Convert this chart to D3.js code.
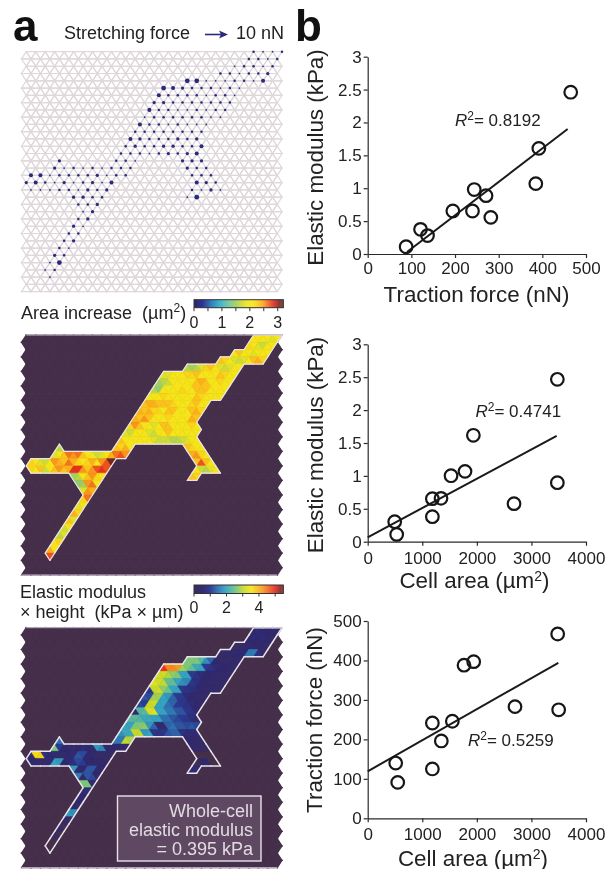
<!DOCTYPE html>
<html><head><meta charset="utf-8">
<script src="https://d3js.org/d3.v7.min.js"></script>
<style>html,body{margin:0;padding:0;background:#fff}svg{display:block;filter:blur(0.35px)}text{font-family:"Liberation Sans",Arial,sans-serif;fill:#222}</style>
</head><body><svg id="c" width="607" height="869"></svg>
<script>
// ---- scatter data ----
const tractionA = [88,121,137,195,240,244,271,282,385,392,465];
const modulusA  = [0.11,0.375,0.28,0.654,0.654,0.98,0.887,0.557,1.07,1.606,2.46];
const fitA = [[90,0.03],[458,1.9]];
const areaB = [495,531,1185,1185,1343,1527,1783,1936,2681,3475,3475];
const modulusB = [0.304,0.111,0.654,0.38,0.659,1.003,1.069,1.617,0.578,0.897,2.468];
const fitB = [[0,0.066],[3463,1.61]];
const areaC = [513,550,1185,1185,1349,1551,1765,1942,2699,3481,3499];
const tractionC = [140,91,125,241.5,196,246,388,397,283,467,275];
const fitC = [[0,119],[3493,394]];
const forceTicks = [0,100,200,300,400,500];
const modulusTicks = [0,0.5,1,1.5,2,2.5,3];
const areaTicks = [0,1000,2000,3000,4000];

// ---- mesh cell: strip number and first triangle of each run ----
const runStrip = [0,1,2,3,4,5,6,7,8,9,10,11,12,13,14,15,15,15,16,16,17,17,18,18,19,19,20,21,22,23,24,25,26,27,28,29,30];
const runFirst = [48,47,44,41,34,29,28,27,26,25,24,23,22,21,20,7,19,34,6,35,1,36,1,36,10,35,11,12,12,11,10,9,8,7,6,5,5];

// ---- area increase (um2) per triangle, per run ----
const areaIncrease = [
[2.0,2.1,2.0,1.9,1.8,2.0],
[2.2,2.0,1.8,1.7,1.9,2.0],
[2.1,2.3,2.0,1.9,1.8,1.9,2.0,2.0],
[2.3,2.2,2.0,1.8,1.7,1.8,2.0,2.3,2.4,2.2],
[1.6,1.5,1.6,1.8,2.2,2.3,2.1,1.8,1.7,1.8,1.9,2.0],
[1.8,1.8,1.9,2.0,2.0,2.2,2.2,2.3,2.1,2.0,1.9,2.1,2.3,2.2,1.9,2.0],
[1.5,1.6,1.7,2.0,2.0,2.1,2.0,2.0,2.3,2.4,2.3,2.0,2.1,2.2,2.0,2.0],
[1.6,1.4,1.9,1.9,2.0,2.0,2.2,2.0,2.0,2.3,2.3,2.3,2.1,2.0,2.0,2.0],
[2.0,1.9,2.0,2.2,2.1,2.0,1.9,2.0,2.0,2.1,2.3,2.2,2.0,2.0,2.0,2.0],
[2.3,2.4,2.4,2.3,2.3,2.3,2.2,2.1,2.0,2.0,2.2,2.3,2.1,2.0],
[2.4,2.3,2.4,2.2,2.2,1.9,2.3,2.3,2.0,1.9,2.0,2.3,2.4,2.2],
[2.4,2.3,2.5,2.3,2.1,2.0,2.0,2.2,2.1,2.0,2.0,2.1,2.4,2.3],
[2.2,2.5,2.3,2.1,2.0,1.8,2.0,2.3,2.3,2.0,1.9,2.0,2.0,2.2,2.0],
[1.8,1.7,2.0,2.0,1.9,1.8,1.7,1.9,2.0,2.3,2.0,2.0,1.9,1.9,1.9,2.0],
[2.3,2.0,1.9,2.0,2.0,2.0,1.9,1.8,1.7,1.7,1.7,1.6,1.6,1.7,1.8,1.9,2.0],
[1.6],
[2.3,2.2,2.4,2.0],
[2.3,2.2,2.0,2.0],
[1.8,2.0,2.3,2.6,2.5,2.6,2.3,2.0,1.9,1.7,1.8,2.0,2.4,2.6,2.7,2.5],
[2.4,2.5,2.2,2.0],
[2.2,2.1,1.8,1.7,1.9,2.5,2.4,2.3,2.6,2.4,2.2,2.1,2.2,2.4,2.0,2.5,2.7,3.1],
[2.3,2.7,2.3,2.0],
[2.2,2.0,2.3,1.7,1.9,2.3,2.5,2.3,2.4,2.8,2.8,2.5,2.3,2.5,2.7,2.8,2.7],
[2.0,1.7,1.6,1.8,2.0],
[1.5,1.6,2.0,2.3,2.5,2.2,2.0],
[2.3,2.2],
[1.4,1.5,2.5,2.6,2.0],
[1.8,2.5,2.4],
[2.2,2.6],[1.8,1.9],[2.4,2.2],[2.3,1.8],[1.7,2.0],[1.6,1.8],[2.0,2.2],[2.4,2.1],[2.7]
];

// ---- elastic modulus x height (kPa um) per triangle, per run ----
const elasticHeight = [
[0.5,0.6,0.5,0.5,0.5,0.4],
[0.5,0.6,0.5,0.6,0.5,0.3],
[0.1,0.1,0.3,0.4,0.5,0.5,0.5,0.3],
[0.3,0.3,0.4,0.4,0.5,0.6,1.5,1.5,0.7,0.2],
[2.6,2.6,2.6,2.3,1.7,1.3,0.5,0.3,0.3,0.3,0.4,0.4],
[4.9,4.3,4.3,4.2,2.8,2.6,2.4,2.0,1.9,1.0,0.8,0.6,0.5,0.5,0.4,0.3],
[3.1,3.1,2.9,2.7,2.6,1.9,1.9,1.0,0.8,0.6,0.5,0.5,0.4,0.4,0.4,0.3],
[3.3,3.1,3.0,2.4,2.4,1.9,1.7,1.6,0.9,0.7,0.5,0.5,0.4,0.4,0.4,0.3],
[0.9,3.0,3.1,2.7,2.5,1.9,1.9,0.9,0.8,0.7,0.6,0.5,0.4,0.4,0.4,0.3],
[1.2,1.1,2.8,2.8,1.9,1.8,1.3,1.0,0.9,0.6,0.5,0.4,0.4,0.3],
[1.1,1.0,3.0,3.1,1.9,1.9,1.4,1.3,1.0,0.9,0.8,0.6,0.5,0.4],
[0.3,2.2,2.3,3.2,3.3,1.9,1.9,1.5,1.5,1.2,1.2,0.9,0.8,0.4],
[2.3,2.3,2.2,2.0,2.0,1.9,1.9,1.4,1.4,1.2,1.1,1.0,0.9,0.7,0.3],
[1.9,1.9,2.6,2.6,2.7,1.8,1.3,0.5,0.4,1.3,1.4,1.2,1.2,1.1,1.2,1.1],
[1.7,2.0,2.0,3.0,3.0,1.8,1.9,0.9,0.8,0.9,1.2,1.3,1.3,0.7,0.6,0.6,0.6],
[1.4],
[1.5,1.5,3.0,2.9],
[0.5,0.5,0.4,0.3],
[2.6,1.0,0.5,0.4,0.3,0.5,0.6,0.5,0.4,1.8,1.6,0.5,0.4,0.4,0.3,0.4],
[0.4,0.3,0.2,0.1],
[0.5,3.6,3.7,0.7,0.5,0.6,0.4,0.4,0.5,0.6,1.2,1.1,0.5,0.4,0.3,0.3,0.2,0.2],
[0,0,0,0],
[0.5,0.4,0.3,0.3,0.6,1.9,1.8,0.5,0.6,0.7,1.1,1.0,0.5,0.5,0.4,0.4,0.3],
[0,0.4,0.4,0,0],
[1.8,0.6,0.5,1.2,1.2,0.5,0.4],
[0.5,0.6],
[1.5,0.5,1.2,1.1,0.4],
[2.6,2.6,0.4],
[0.3,0.7],[0.4,0.5],[0.5,0.3],[1.8,1.7],[0.3,0.2],[0.3,0],[0.2,0],[0,0],[0]
];

// ---- stretching force per mesh node (relative size), per run ----
const nodeRow   = [0,1,2,3,4,5,6,7,8,9,10,11,12,13,14,15,15,15,16,16,17,17,18,18,19,19,20,20,21,22,23,24,25,26,27,28,29,30,31];
const nodeFirst = [49,48,45,42,35,30,29,28,27,26,25,24,23,22,21,8,20,34,7,35,2,36,1,37,2,36,11,35,12,13,12,11,10,9,8,7,6,5,6];
const nodeForce = [
[2,1,1,2],[2,2,1,2],[1,2,2,1,2],[2,2,1,2,2,3],[5,5,1,1,1,2,2,1,4],[5,4,3,2,2,2,1,2,1],
[4,2,2,2,2,1,2,2,1],[3,3,2,2,2,2,2,2,2],[4,2,2,1,1,2,1,2,2],[1,2,2,2,2,2,2,1,1],
[4,2,2,1,2,1,1,1],[2,2,2,2,2,2,2,2],[4,3,2,2,2,3,2,3],[2,3,2,2,3,3,2,2,4],[2,2,2,1,2,3,2,3,4],
[3],[2,2,1],[3,3,3],[3,1,2,1,2,1,2,2,2],[3,2,2],[4,4,1,2,2,2,2,3,1,2,2],[2,2,2],
[3,4,2,1,3,1,2,3,1,4],[4,3,2],[1,1,1,2,2,1,3,2,3],[2,1,3,1],[3,3,2,2],[1,5],[2,2,3],[1,3],
[2,3],[3,1],[2,2],[2,3],[2,1],[3,2],[1,5],[1,2],[1]
];

// ---- colour maps ----
const areaStops = [0,0.3,0.6,0.9,1.2,1.5,1.9,2.12,2.45,2.8,3.05,3.2];
const areaColors = ["#2b2470","#2e3192","#2b7bba","#35b0c9","#6cc5a0","#a4d05a","#f3e51a","#f9e21a","#fba71b","#e8301f","#7d1d18","#5a4030"];
const elasticStops = [0,0.5,1,1.4,1.9,2.5,3.0,3.5,4.2,4.9,5.3,5.6];
const elasticColors = ["#3a2d5e","#30296e","#2b3a90","#2f70b0","#35a2c0","#6cc28a","#c4d92e","#f5e616","#f8981d","#e8301f","#8b1a1a","#555555"];
const areaBarTicks = [0,1,2,3];
const elasticBarTicks = [0,2,4];

const svg = d3.select("#c");
const U_MAX = 55, ROWS = 33, PANEL_H = 240;
const panelBg = "#452f4a";
const xU = d3.scaleLinear([0,U_MAX],[21.5,282]);

function tri(k,t){
  return (t%2)===((k+1)%2)
    ? [[t,k],[t+2,k],[t+1,k+1]]
    : [[t,k+1],[t+2,k+1],[t+1,k]];
}
function pathOf(pts,yR){ return "M"+pts.map(p=>[xU(p[0]),yR(p[1])].join(",")).join("L")+"Z"; }
const gridTris = [];
for(let k=0;k<ROWS;k++) for(let t=0;t<=53;t++) gridTris.push(tri(k,t));

function cellTris(values){
  const out=[];
  values.forEach((run,r)=>run.forEach((v,n)=>out.push({v,pts:tri(runStrip[r],runFirst[r]+n)})));
  return out;
}
function boundary(tris){
  const m=new Map();
  tris.forEach(d=>{const p=d.pts;[[0,1],[1,2],[2,0]].forEach(([a,b])=>{
    const A=p[a],B=p[b],key=[A,B].map(q=>q.join(":")).sort().join("|");
    m.set(key,(m.get(key)||0)+1);
  });});
  return [...m.entries()].filter(e=>e[1]===1).map(e=>e[0].split("|").map(s=>s.split(":").map(Number)));
}

// --- panel 1: mesh and forces ---
(function(){
  const yR=d3.scaleLinear([0,ROWS],[51.7,51.7+PANEL_H]);
  const g=svg.append("g");
  g.selectAll("path").data(gridTris).join("path").attr("d",d=>pathOf(d,yR))
   .attr("fill","none").attr("stroke","#dfd8db").attr("stroke-width",1.2);
  const nodes=[];
  nodeForce.forEach((run,r)=>run.forEach((f,n)=>nodes.push({f,u:nodeFirst[r]+2*n,i:nodeRow[r]})));
  const rS=d3.scaleLinear([1,5],[0.85,2.4]);
  svg.append("g").selectAll("circle").data(nodes).join("circle")
   .attr("cx",d=>xU(d.u)).attr("cy",d=>yR(d.i)).attr("r",d=>rS(d.f)).attr("fill","#2a2a7c");
})();

function cellPanel(y0,values,stops,colors,outW){
  const yR=d3.scaleLinear([0,ROWS],[y0,y0+PANEL_H]);
  const color=d3.scaleLinear(stops,colors).clamp(true);
  svg.append("g").selectAll("path").data(gridTris).join("path").attr("d",d=>pathOf(d,yR))
    .attr("fill",panelBg).attr("stroke",panelBg).attr("stroke-width",1.2);
  const tris=cellTris(values);
  svg.append("g").selectAll("path").data(tris.filter(d=>d.v>0)).join("path").attr("d",d=>pathOf(d.pts,yR))
    .attr("fill",d=>color(d.v)).attr("stroke",d=>color(d.v)).attr("stroke-width",0.6);
  svg.append("g").selectAll("path").data(boundary(tris)).join("path")
    .attr("d",d=>"M"+d.map(p=>[xU(p[0]),yR(p[1])].join(",")).join("L"))
    .attr("stroke","#e9e4ea").attr("stroke-width",outW).attr("stroke-linecap","round").attr("fill","none");
  [0,ROWS].forEach(r=>svg.append("line").attr("x1",xU(r?0:1)).attr("x2",xU(r?54:55)).attr("y1",yR(r)).attr("y2",yR(r))
    .attr("stroke","#cbbfcf").attr("stroke-width",1));
}
cellPanel(335,areaIncrease,areaStops,areaColors,1.2);
cellPanel(627.7,elasticHeight,elasticStops,elasticColors,1.5);

// inset box
svg.append("rect").attr("x",117.5).attr("y",796).attr("width",143.5).attr("height",65)
  .attr("fill","#5f4861").attr("stroke","#e8e3ea").attr("stroke-width",1.4);
[["Whole-cell",816.5],["elastic modulus",835.5],["= 0.395 kPa",854.5]].forEach(([s,y])=>
  svg.append("text").attr("x",253).attr("y",y).attr("text-anchor","end").attr("font-size",18).style("fill","#e2dbe2").text(s));

// colour bars
function colorBar(y,h,tickLen,max,stops,colors,ticks,minor,labelY){
  const x=d3.scaleLinear([0,max],[194,283.3]);
  const color=d3.scaleLinear(stops,colors).clamp(true);
  const g=svg.append("g");
  const vals=d3.range(0,89).map(i=>i/89*max);
  g.selectAll("rect").data(vals).join("rect").attr("x",d=>x(d)).attr("y",y).attr("width",1.3).attr("height",h).attr("fill",d=>color(d));
  g.append("rect").attr("x",194).attr("y",y).attr("width",89.3).attr("height",h).attr("fill","none").attr("stroke","#333").attr("stroke-width",1);
  g.selectAll("line").data(minor).join("line").attr("x1",d=>x(d)).attr("x2",d=>x(d)).attr("y1",y+h).attr("y2",y+h+tickLen).attr("stroke","#333");
  g.selectAll("text").data(ticks).join("text").attr("x",d=>x(d)).attr("y",labelY).attr("text-anchor","middle").attr("font-size",16).text(d=>d);
}
colorBar(299.7,8,3.5,3.2,areaStops,areaColors,areaBarTicks,[0,0.5,1,1.5,2,2.5,3],328);
colorBar(585,8.5,3,5.5,elasticStops,elasticColors,elasticBarTicks,[0,1,2,3,4,5],612.7);

// text labels left
function label(x,y,size,str,weight){
  return svg.append("text").attr("x",x).attr("y",y).attr("font-size",size).attr("font-weight",weight||null).text(str);
}
label(13,40.5,44,"a","bold").style("fill","#111");
label(295,40.5,44,"b","bold").style("fill","#111");
label(64,39,18,"Stretching force");
label(236,39,18,"10 nN");
svg.append("line").attr("x1",205).attr("x2",224).attr("y1",34.5).attr("y2",34.5).attr("stroke","#2a2a7c").attr("stroke-width",1.6);
svg.append("path").attr("d",d3.line()([[219,30.5],[228,34.5],[219,38.5],[221,34.5]])+"Z").attr("fill","#2a2a7c");

const ar=label(21,319,18,"Area increase  (");ar.attr("xml:space","preserve");
ar.append("tspan").text("µm");
ar.append("tspan").attr("dy",-7).attr("font-size",12).text("2");
ar.append("tspan").attr("dy",7).text(")");
label(20,598,18,"Elastic modulus");
label(20,617.7,18,"× height  (kPa × µm)").attr("xml:space","preserve");

// scatter plots
function scatter(cfg){
  const x=d3.scaleLinear(cfg.xDom,[367.7,586]);
  const y=d3.scaleLinear(cfg.yDom,[cfg.y0,cfg.y1]);
  const g=svg.append("g");
  const xa=g.append("g").attr("transform",`translate(0,${cfg.y0})`)
    .call(d3.axisBottom(x).tickValues(cfg.xTicks).tickSize(4).tickSizeOuter(0).tickPadding(6).tickFormat(d=>d));
  const ya=g.append("g").attr("transform",`translate(367.7,0)`)
    .call(d3.axisLeft(y).tickValues(cfg.yTicks).tickSize(4).tickSizeOuter(0).tickPadding(2).tickFormat(d=>d));
  [xa,ya].forEach(a=>{
    a.selectAll("path,line").attr("stroke","#2a2a2a").attr("stroke-width",1.2);
    a.selectAll("text").attr("font-size",17).style("font-family",'"Liberation Sans"').attr("fill","#222");
  });
  xa.selectAll("text").attr("dy",null).attr("y",null).attr("transform",null)
    .attr("y",cfg.xLabelY-cfg.y0).attr("dominant-baseline",null);
  g.append("path").attr("d",d3.line().x(d=>x(d[0])).y(d=>y(d[1]))(cfg.fit))
    .attr("stroke","#1a1a1a").attr("stroke-width",2).attr("fill","none");
  g.selectAll("circle").data(cfg.xs).join("circle")
    .attr("cx",d=>x(d)).attr("cy",(d,i)=>y(cfg.ys[i])).attr("r",6.3)
    .attr("fill","none").attr("stroke","#161616").attr("stroke-width",2.2);
  // r2
  const r=g.append("text").attr("x",cfg.rx).attr("y",cfg.ry).attr("font-size",17);
  r.append("tspan").attr("font-style","italic").text("R");
  r.append("tspan").attr("dy",-6).attr("font-size",12).text("2");
  r.append("tspan").attr("dy",6).text("= "+cfg.r2);
  // axis titles
  const xt=g.append("text").attr("x",cfg.xtx).attr("y",cfg.xty).attr("text-anchor","middle").attr("font-size",cfg.xts);
  cfg.xTitle.forEach(p=>{const s=xt.append("tspan").text(p[0]); if(p[1]) s.attr("dy",p[1]); if(p[2]) s.attr("font-size",p[2]);});
  g.append("text").attr("transform",`translate(${cfg.ytx},${cfg.yty}) rotate(-90)`).attr("text-anchor","middle").attr("font-size",cfg.yts).text(cfg.yTitle);
}
scatter({xDom:[0,500],yDom:[0,3],y0:254,y1:56.7,xs:tractionA,ys:modulusA,fit:fitA,xTicks:forceTicks,yTicks:modulusTicks,xLabelY:274,
  rx:455,ry:126,r2:"0.8192",xTitle:[["Traction force (nN)"]],xtx:476.5,xty:301.7,xts:22.4,yTitle:"Elastic modulus (kPa)",ytx:323,yty:157.5,yts:22.4});
scatter({xDom:[0,4000],yDom:[0,3],y0:541.7,y1:344.3,xs:areaB,ys:modulusB,fit:fitB,xTicks:areaTicks,yTicks:modulusTicks,xLabelY:564,
  rx:475.5,ry:417,r2:"0.4741",xTitle:[["Cell area (µm"],["2",-7,14],[")",7]],xtx:474.5,xty:588,xts:22.4,yTitle:"Elastic modulus (kPa)",ytx:323,yty:445,yts:22.4});
scatter({xDom:[0,4000],yDom:[0,500],y0:818.3,y1:621,xs:areaC,ys:tractionC,fit:fitC,xTicks:areaTicks,yTicks:forceTicks,xLabelY:840.5,
  rx:468,ry:746,r2:"0.5259",xTitle:[["Cell area (µm"],["2",-7,14],[")",7]],xtx:473,xty:865.5,xts:22.4,yTitle:"Traction force (nN)",ytx:322,yty:720,yts:22.4});
</script></body></html>
